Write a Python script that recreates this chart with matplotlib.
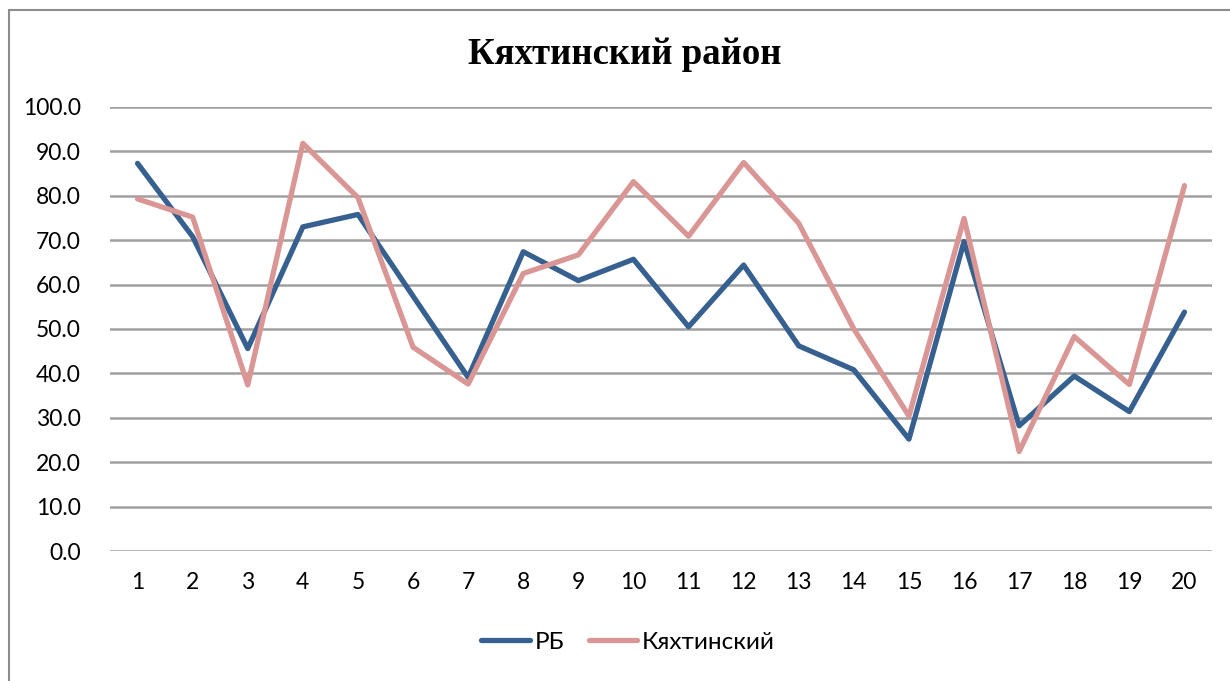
import matplotlib
matplotlib.use("Agg")
import matplotlib.pyplot as plt
from matplotlib.patches import Rectangle

categories = [str(i) for i in range(1, 21)]
rb = [87.3, 70.8, 45.6, 73.0, 75.8, 57.4, 39.1, 67.4, 60.9, 65.7,
      50.5, 64.4, 46.2, 40.8, 25.2, 69.7, 28.2, 39.4, 31.4, 53.8]
kyakhta = [79.3, 75.2, 37.4, 91.8, 79.6, 45.9, 37.6, 62.5, 66.7, 83.2,
           70.9, 87.5, 73.8, 50.0, 30.4, 74.9, 22.4, 48.3, 37.5, 82.3]
yticks = [0, 10, 20, 30, 40, 50, 60, 70, 80, 90, 100]
title = "Кяхтинский район"

W, H = 1230, 681
fig = plt.figure(figsize=(W / 100, H / 100), dpi=100)
fig.patch.set_facecolor("white")

# outer chart frame
fig.add_artist(Rectangle((9 / W, -0.05), 1.5, 1 - 10 / H + 0.05, transform=fig.transFigure,
                         fill=False, edgecolor="#8C8C8C", linewidth=1.5))

ax = fig.add_axes([110 / W, 1 - 551 / H, (1212 - 110) / W, (551 - 107) / H])
x = list(range(1, 21))
ax.plot(x, rb, color="#36608F", linewidth=3.8, label="РБ", solid_joinstyle="round",
        solid_capstyle="round", zorder=3)
ax.plot(x, kyakhta, color="#D99694", linewidth=3.8, label="Кяхтинский",
        solid_joinstyle="round", solid_capstyle="round", zorder=3)

ax.set_xlim(0.5, 20.5)
ax.set_ylim(0, 100)
ax.set_yticks(yticks)
ax.set_yticklabels([f"{v:.1f}" for v in yticks])
ax.set_xticks(x)
ax.set_xticklabels(categories)
ax.grid(axis="y", color="#A0A0A0", linewidth=1.8, zorder=1)
ax.set_axisbelow(True)
for s in ax.spines.values():
    s.set_visible(False)
ax.tick_params(axis="both", length=0, labelsize=16.5, labelcolor="black")
ax.tick_params(axis="y", pad=21)
ax.tick_params(axis="x", pad=15)
for lab in ax.get_xticklabels() + ax.get_yticklabels():
    lab.set_family("Lato")

fig.text(625 / W, 1 - 55 / H, title, ha="center", va="center",
         fontsize=26.5, fontweight="bold", family="Liberation Serif")

leg = fig.legend(loc="center", bbox_to_anchor=(628 / W, 1 - 642 / H), ncol=2, frameon=False,
                 prop={"family": "Lato", "size": 17.5}, handlelength=2.0,
                 handletextpad=0.2, columnspacing=1.0)

fig.savefig("out.png", dpi=100, facecolor="white")
